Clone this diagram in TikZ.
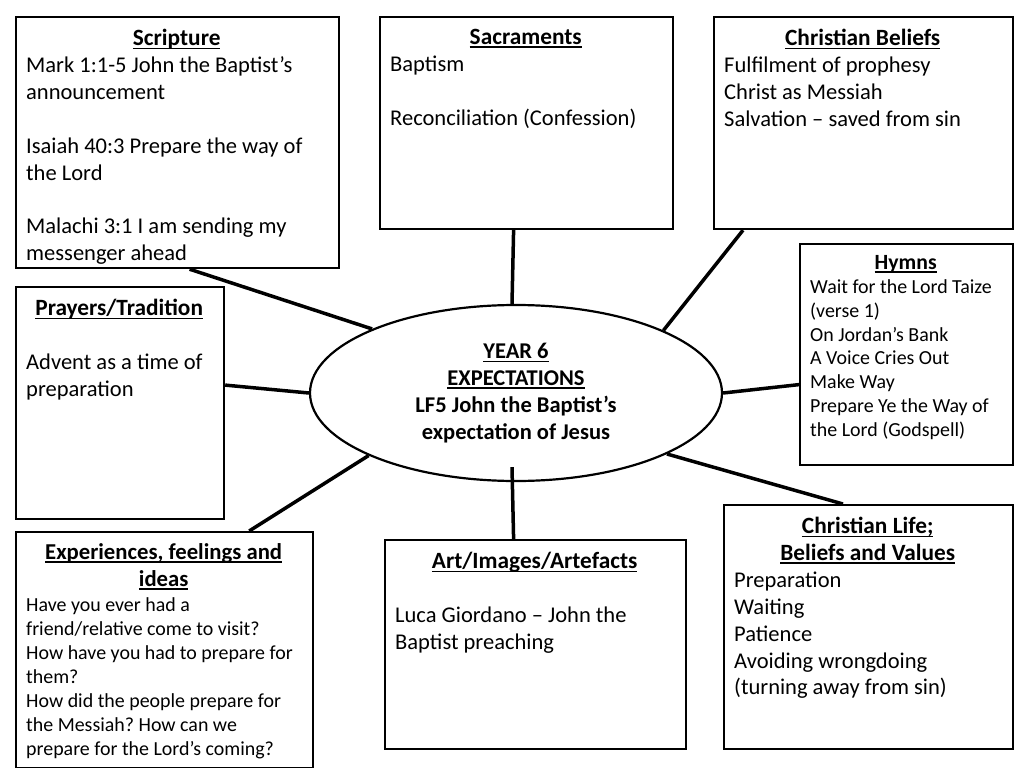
\documentclass[tikz,border=0pt]{standalone}
\usepackage{fontspec}
\setmainfont{Carlito}
\usetikzlibrary{positioning,shapes.geometric}
\setlength{\parindent}{0pt}
\frenchspacing
\newcommand{\uln}[1]{\setbox0\hbox{#1}\rlap{\rule[-3.5bp]{\wd0}{1.5bp}}\box0}
\newcommand{\head}[2][23.4]{\makebox[\hsize]{\uln{\bfseries\fontsize{#1}{27}\selectfont #2}}}
\begin{document}
\begin{tikzpicture}[x=1bp,y=-1bp,
  topic/.style={draw,line width=2.2bp,anchor=north west,inner sep=0pt},
  note/.style={inner sep=0pt,align=flush left,font=\fontsize{22.6}{27}\selectfont},
  small note/.style={note,font=\fontsize{20}{24}\selectfont},
  link/.style={line width=3.5bp}]
  \useasboundingbox (0,0) rectangle (1024,768);
  % the boxes round the hub
  \node[topic,minimum width=323bp,minimum height=251bp] (scrip) at (15,16) {};
  \node[topic,minimum width=293bp,minimum height=212bp] (sacr) at (379,16) {};
  \node[topic,minimum width=299bp,minimum height=212bp] (bel) at (713,16) {};
  \node[topic,minimum width=213bp,minimum height=221bp] (hymn) at (799,243) {};
  \node[topic,minimum width=208bp,minimum height=232bp] (pray) at (15,286) {};
  \node[topic,minimum width=297bp,minimum height=236bp] (exp) at (15,531) {};
  \node[topic,minimum width=301bp,minimum height=209bp] (art) at (384,539) {};
  \node[topic,minimum width=289bp,minimum height=244bp] (life) at (723,504) {};
  \node[draw,ellipse,line width=2.2bp,minimum width=412bp,minimum height=176bp,
    inner sep=0pt,align=center,font=\fontsize{22.6}{27}\selectfont\bfseries] (ctr) at (516,393)
    {\uln{YEAR 6}\\ \uln{EXPECTATIONS}\\ LF5 John the Baptist’s\\ expectation of Jesus};
  % texts
  \node[note,text width=301bp,below right=13bp and 11bp of scrip.north west] (scripT) {%
    \head{Scripture}\\
    Mark 1:1-5 John the Baptist’s\\
    announcement\\[\baselineskip]
    Isaiah 40:3 Prepare the way of\\
    the Lord\\[\baselineskip]
    Malachi 3:1 I am sending my\\
    messenger ahead};
  \node[note,text width=271bp,below right=13bp and 11bp of sacr.north west] (sacrT) {%
    \head{Sacraments}\\
    Baptism\\[\baselineskip]
    Reconciliation (Confession)};
  \node[note,text width=277bp,below right=13bp and 11bp of bel.north west] (belT) {%
    \head{Christian Beliefs}\\
    Fulfilment of prophesy\\
    Christ as Messiah\\
    Salvation -- saved from sin};
  \node[small note,text width=191bp,below right=12bp and 11bp of hymn.north west] (hymnT) {%
    \head[21.8]{Hymns}\\
    Wait for the Lord Taize\\
    (verse 1)\\
    On Jordan’s Bank\\
    A Voice Cries Out\\
    Make Way\\
    Prepare Ye the Way of\\
    the Lord (Godspell)};
  \node[note,text width=186bp,below right=13bp and 11bp of pray.north west] (prayT) {%
    \head{Prayers/Tradition}\\[\baselineskip]
    Advent as a time of\\
    preparation};
  \node[small note,text width=275bp,below right=12bp and 11bp of exp.north west] (expT) {%
    \head[22.8]{Experiences, feelings and}\\[3bp]
    \head[22.8]{ideas}\\[2bp]
    Have you ever had a\\
    friend/relative come to visit?\\
    How have you had to prepare for\\
    them?\\
    How did the people prepare for\\
    the Messiah? How can we\\
    prepare for the Lord’s coming?};
  \node[note,text width=279bp,below right=13bp and 11bp of art.north west] (artT) {%
    \head{Art/Images/Artefacts}\\[\baselineskip]
    Luca Giordano -- John the\\
    Baptist preaching};
  \node[note,text width=267bp,below right=13bp and 11bp of life.north west] (lifeT) {%
    \head{Christian Life;}\\
    \head{Beliefs and Values}\\
    Preparation\\
    Waiting\\
    Patience\\
    Avoiding wrongdoing\\
    (turning away from sin)};
  % spokes
  \draw[link] ([xshift=12bp]scrip.south) -- (ctr.156.7);
  \draw[link] ([xshift=-13bp]sacr.south) -- ([xshift=-4bp]ctr.north);
  \draw[link] ([xshift=30bp]bel.south west) -- (ctr.23.7);
  \draw[link] (ctr.east) -- ([yshift=-30bp]hymn.west);
  \draw[link] ([yshift=18bp]pray.east) -- (ctr.west);
  \draw[link] ([xshift=-65bp]exp.north east) -- (ctr.203.3);
  \draw[link] ([xshift=-22bp]art.north) -- ([xshift=-4bp,yshift=15bp]ctr.south);
  \draw[link] ([xshift=120bp]life.north west) -- (ctr.-22.6);
\end{tikzpicture}
\end{document}
